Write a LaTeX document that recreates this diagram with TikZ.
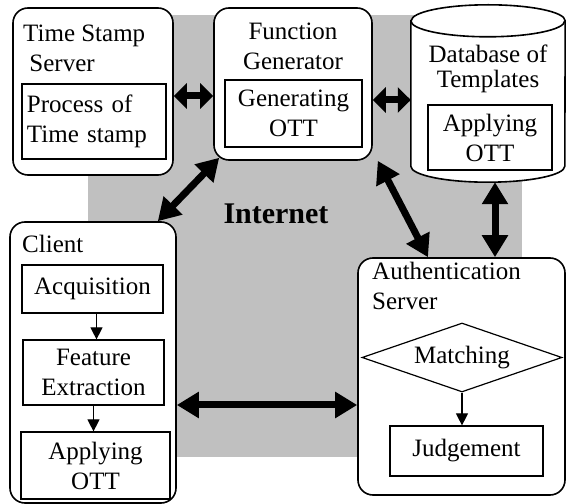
\documentclass[tikz,border=0pt]{standalone}
\usepackage{fontspec}
\setmainfont{Liberation Serif}
\usetikzlibrary{arrows.meta,positioning,calc,shapes.geometric}
\definecolor{netgray}{RGB}{192,192,192}

\begin{document}
\begin{tikzpicture}[x=1pt,y=1pt,
  unit/.style={draw,line width=1.6pt,rounded corners=15pt,fill=white},
  sub/.style={draw,line width=1.2pt,fill=white,align=center,inner sep=3pt},
  ttl/.style={align=left,inner sep=0pt,anchor=base west},
  big/.style={{Triangle[length=22pt,width=25pt]}-{Triangle[length=22pt,width=25pt]},line width=7pt},
  bigs/.style={{Triangle[length=13pt,width=25pt]}-{Triangle[length=13pt,width=25pt]},line width=7pt},
  small/.style={-{Triangle[length=12pt,width=12pt]},line width=1.2pt},
  font=\fontsize{25}{30}\selectfont]
\useasboundingbox (0,0) rectangle (566,504);
\fill[netgray] (88,47) rectangle (522,489);
\node[font=\fontsize{30}{32}\selectfont\bfseries] (net) at (276,290) {Internet};
% time stamp server
\node[unit,minimum width=160,minimum height=167] (ts) at (93,412.5) {};
\node[ttl] (tsT) at (23,432) {Time Stamp\\\ Server};
\node[sub,minimum width=144,minimum height=75,text width=134,align=left] (tsP) at (94,382.5) {Process of\\Time stamp};
% function generator
\node[unit,minimum width=158,minimum height=152] (fg) at (293,420) {};
\node[ttl,anchor=base,align=center] (fgT) at (293,434) {Function\\Generator};
\node[sub,minimum width=137,minimum height=67] (fgP) at (293.5,390.5) {Generating\\OTT};
% database (drawn as a cylinder round the node)
\node[minimum width=154,minimum height=177,inner sep=0pt] (db) at (488,410.5) {};
\draw[line width=1.6pt,fill=white] ([yshift=-16]db.north west) -- ([yshift=16]db.south west)
  arc[start angle=180,end angle=360,x radius=77,y radius=16] -- ([yshift=-16]db.north east)
  arc[start angle=0,end angle=180,x radius=77,y radius=16] -- cycle;
\draw[line width=1.6pt] ([yshift=-16]db.north west) arc[start angle=180,end angle=360,x radius=77,y radius=16];
\node[ttl,anchor=base,align=center] (dbT) at (488,416) {Database of\\[-5pt]Templates};
\node[sub,minimum width=124,minimum height=65] (dbP) at (490,366.5) {Applying\\OTT};
% client
\node[unit,minimum width=166,minimum height=281] (cl) at (93,141.5) {};
\node[ttl] (clT) at (22,251) {Client};
\node[sub,minimum width=141,minimum height=48] (acq) at (92.5,215) {Acquisition};
\node[sub,minimum width=141,minimum height=65] (fe) at (93.5,131.5) {Feature\\Extraction};
\node[sub,minimum width=149,minimum height=67] (app) at (95.5,38.5) {Applying\\OTT};
\draw[small] ([xshift=4]acq.south) -- ([xshift=4]acq.south |- fe.north);
\draw[small] (fe.south) -- (fe.south |- app.north);
% authentication server
\node[unit,minimum width=207,minimum height=237] (au) at (461.5,127.5) {};
\node[ttl] (auT) at (372,194) {Authentication\\Server};
\node[diamond,draw,line width=1.2pt,aspect=2.9,inner sep=0pt,minimum width=200,minimum height=69] (mt) at (462,146.5) {Matching};
\node[sub,minimum width=153,minimum height=50] (jd) at (466.5,53) {Judgement};
\draw[small] (mt.south) -- (mt.south |- jd.north);
% links
\draw[bigs] ([yshift=-4.5]ts.east) -- ([yshift=-4.5]ts.east -| fg.west);
\draw[bigs] ([yshift=-16]fg.east) -- ([yshift=-16]fg.east -| db.west);
\draw[big] ([shift={(6,3)}]fg.south west) -- ([xshift=-19]cl.north east);
\draw[big] ([xshift=5]fg.south east) -- ([xshift=-33.5]au.north);
\draw[big] ([xshift=7]db.south) -- ([xshift=7]db.south |- au.north);
\draw[big] ([yshift=-42.5]cl.east) -- ([yshift=-42.5]cl.east -| au.west);
\end{tikzpicture}
\end{document}
